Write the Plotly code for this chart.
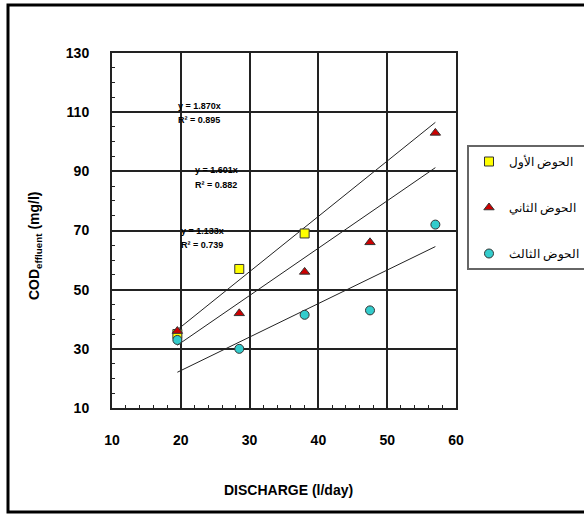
import numpy as np
import plotly.graph_objects as go

# ---- data ----
names = ["الحوض الأول", "الحوض الثاني", "الحوض الثالث"]
x_basin1 = [19.5, 28.5, 38]
y_basin1 = [35, 57, 69]
x_basin2 = [19.5, 28.5, 38, 47.5, 57]
y_basin2 = [36, 42, 56, 66, 103]
x_basin3 = [19.5, 28.5, 38, 47.5, 57]
y_basin3 = [33, 30, 41.5, 43, 72]
r2_labels = ["0.895", "0.882", "0.739"]
trend_x_range = [19.5, 57]

x_ticks = [10, 20, 30, 40, 50, 60]
y_ticks = [10, 30, 50, 70, 90, 110, 130]

W, H = 584, 516
L, R, T, B = 112, 456, 53, 408  # plot area in pixels


def px(x):
    return (x - L) / (R - L)


def py(y):
    return (B - y) / (B - T)


FONT = "Liberation Sans"
fig = go.Figure()

series = [
    (x_basin1, y_basin1, dict(symbol="square", color="#FFFF00", size=9)),
    (x_basin2, y_basin2, dict(symbol="triangle-up", color="#CC0000", size=9)),
    (x_basin3, y_basin3, dict(symbol="circle", color="#33CCCC", size=9)),
]

slopes = []
for xs, ys, _ in series:
    xa, ya = np.array(xs), np.array(ys)
    slopes.append(float((xa * ya).sum() / (xa * xa).sum()))

# trend lines (through origin)
for s in slopes:
    tx = np.array(trend_x_range)
    fig.add_trace(go.Scatter(x=tx, y=s * tx, mode="lines",
                             line=dict(color="#222", width=1),
                             showlegend=False, hoverinfo="skip"))

for i, (xs, ys, mk) in enumerate(series):
    fig.add_trace(go.Scatter(
        x=xs, y=ys, mode="markers", name=names[i], legendgroup=str(i),
        marker=dict(symbol=mk["symbol"], color=mk["color"], size=mk["size"],
                    line=dict(color="#333", width=1))))

# equation labels
label_pos = [(199, 106, 120), (216, 170, 185), (202, 231, 245)]
for (cx, y1, y2), s, r2 in zip(label_pos, slopes, r2_labels):
    for yy, txt in ((y1, f"<b>y = {s:.3f}x</b>"), (y2, f"<b>R² = {r2}</b>")):
        fig.add_annotation(x=px(cx), y=py(yy), xref="paper", yref="paper",
                           xanchor="center", yanchor="middle",
                           text=txt, showarrow=False,
                           font=dict(family=FONT, size=9, color="black"))

# axis titles
fig.add_annotation(x=px(35), y=py(246), xref="paper", yref="paper",
                   xanchor="center", yanchor="middle",
                   text="<b>COD<sub>effluent</sub> (mg/l)</b>", textangle=-90,
                   showarrow=False, font=dict(family=FONT, size=14, color="black"))
fig.add_annotation(x=px(288), y=py(490), xref="paper", yref="paper",
                   xanchor="center", yanchor="middle",
                   text="<b>DISCHARGE (l/day)</b>", showarrow=False,
                   font=dict(family=FONT, size=14, color="black"))

# outer frame
fig.add_shape(type="rect", xref="paper", yref="paper",
              x0=px(8), x1=px(592), y0=py(512), y1=py(5),
              line=dict(color="black", width=3), layer="below")

axis_common = dict(showline=True, linecolor="#222", linewidth=2, mirror=True,
                   showgrid=True, gridcolor="#222", gridwidth=1.5,
                   zeroline=False, ticks="inside", ticklen=4, tickcolor="#222",
                   tickfont=dict(family=FONT, size=14, color="black"))

fig.update_xaxes(range=[10, 60], tickvals=x_ticks,
                 ticktext=[f"<b>{v}</b>" for v in x_ticks],
                 ticklabelstandoff=18,
                 minor=dict(dtick=2, ticks="inside", ticklen=3, tickcolor="#222",
                            showgrid=False),
                 **axis_common)
fig.update_yaxes(range=[10, 130], tickvals=y_ticks,
                 ticktext=[f"<b>{v}</b>" for v in y_ticks],
                 ticklabelstandoff=18,
                 minor=dict(dtick=5, tick0=10, ticks="inside", ticklen=3,
                            tickcolor="#222", showgrid=False),
                 **axis_common)

fig.update_layout(
    width=W, height=H,
    margin=dict(l=L, r=W - R, t=T, b=H - B, autoexpand=False),
    paper_bgcolor="white", plot_bgcolor="white",
    showlegend=True,
    legend=dict(x=px(467), y=py(145), xanchor="left", yanchor="top",
                bordercolor="#666", borderwidth=2, bgcolor="white",
                traceorder="grouped", tracegroupgap=27,
                font=dict(family=FONT, size=12, color="black"),
                itemwidth=30),
)

fig.write_html("out.html")
